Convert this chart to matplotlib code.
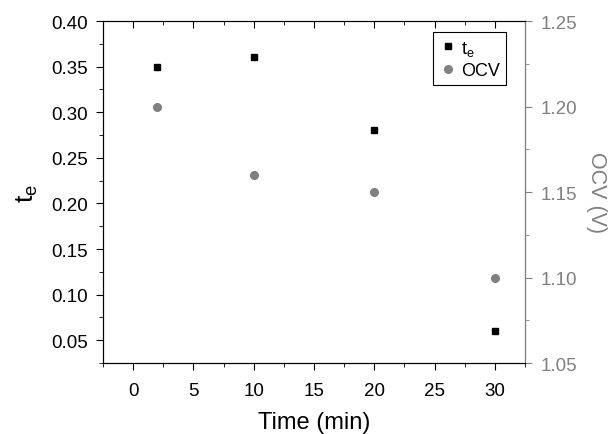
import matplotlib
matplotlib.use("Agg")
import matplotlib.pyplot as plt
from matplotlib.ticker import MultipleLocator

plt.rcParams['font.family'] = ['Liberation Sans', 'DejaVu Sans']
plt.rcParams['mathtext.default'] = 'regular'

# datos
time_min = [2, 10, 20, 30]
te_vals = [0.35, 0.36, 0.28, 0.06]
ocv_vals = [1.20, 1.16, 1.15, 1.10]

grey = "#808080"

fig = plt.figure(figsize=(6.15, 4.35), dpi=100)
ax1 = fig.add_axes([0.1675, 0.1632, 0.6862, 0.7862])
ax2 = ax1.twinx()

l1, = ax1.plot(time_min, te_vals, "s", color="black", markersize=5, label="$t_e$")
l2, = ax2.plot(time_min, ocv_vals, "o", color=grey, markersize=5.5, label="OCV")

ax1.set_xlim(-2.5, 32.5)
ax1.set_ylim(0.025, 0.40)
ax2.set_ylim(1.05, 1.25)

ax1.xaxis.set_major_locator(MultipleLocator(5))
ax1.xaxis.set_minor_locator(MultipleLocator(2.5))
ax1.yaxis.set_major_locator(MultipleLocator(0.05))
ax1.yaxis.set_minor_locator(MultipleLocator(0.025))
ax2.yaxis.set_major_locator(MultipleLocator(0.05))
ax2.yaxis.set_minor_locator(MultipleLocator(0.025))

ax1.tick_params(axis="both", which="major", labelsize=13.5, length=5, direction="out", pad=6)
ax1.tick_params(axis="both", which="minor", length=3, direction="out")
ax1.tick_params(axis="x", top=True, which="both")
ax1.tick_params(axis="x", which="major", labeltop=False, pad=9)
ax2.tick_params(axis="y", which="major", labelsize=13.5, length=5, colors=grey, pad=6)
ax2.tick_params(axis="y", which="minor", length=3, colors=grey)
ax2.spines["right"].set_color(grey)

ax1.set_xlabel("Time (min)", fontsize=17, labelpad=8)
ax1.set_ylabel("$t_e$", fontsize=19, labelpad=8)
ax2.set_ylabel("OCV (V)", fontsize=15.5, color=grey, rotation=270, labelpad=22)

# ticks del borde superior hacia adentro
for t in ax1.xaxis.get_ticklines(minor=False)[1::2] + ax1.xaxis.get_ticklines(minor=True)[1::2]:
    t.set_marker(3)

leg = ax1.legend(handles=[l1, l2], loc="upper right", fontsize=13,
                 bbox_to_anchor=(0.955, 0.967),
                 fancybox=False, edgecolor="black", framealpha=1,
                 handletextpad=0.2, handlelength=1.0, borderaxespad=0.0,
                 labelspacing=0.25, borderpad=0.35)
leg.get_frame().set_linewidth(0.8)

fig.savefig("out.png", dpi=100)
